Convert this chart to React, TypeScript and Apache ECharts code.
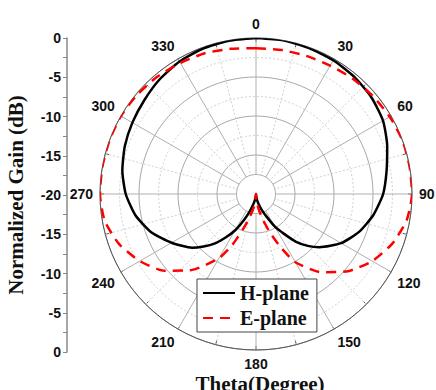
import React, { useEffect, useRef } from "react";
import * as echarts from "echarts";

// Radiation pattern, normalized gain in dB versus theta (degrees)
const hAngles = [0, 10, 20, 30, 40, 50, 60, 70, 80, 90, 100, 110, 120, 130, 135, 140, 145, 150, 155, 160, 165, 170, 175, 180,
  185, 190, 195, 200, 205, 210, 215, 220, 225, 230, 240, 250, 260, 270, 280, 290, 300, 310, 320, 330, 340, 350, 360];
const hGain = [0, 0, -0.1, -0.2, -0.4, -0.7, -1.2, -2.1, -3.0, -3.7, -4.7, -5.9, -7.4, -9.4, -10.6, -12.0, -13.8, -15.2, -16.8, -17.8, -18.6, -19.2, -19.7, -20,
  -19.7, -19.2, -18.6, -17.6, -16.3, -14.6, -13.2, -11.7, -10.5, -9.3, -7.5, -5.7, -4.3, -3.3, -2.6, -2.1, -1.7, -1.3, -0.8, -0.4, -0.15, -0.05, 0];

const eAngles = [0, 10, 20, 30, 40, 50, 60, 70, 80, 90, 100, 110, 120, 130, 140, 150, 155, 160, 165, 170, 175, 180,
  185, 190, 195, 200, 205, 210, 220, 230, 240, 250, 260, 270, 280, 290, 300, 310, 320, 330, 340, 350, 360];
const eGain = [-1.3, -1.25, -1.15, -1.0, -0.7, -0.45, -0.2, 0, 0, 0, -0.4, -1.4, -2.8, -4.6, -6.9, -9.9, -12.4, -14.7, -16.6, -18.0, -19.2, -20,
  -19.2, -18.2, -17.0, -15.3, -12.8, -10.5, -7.3, -4.7, -2.8, -1.3, -0.3, 0, 0, 0, 0, -0.15, -0.35, -0.6, -0.8, -1.1, -1.3];

const seriesNames = ["H-plane", "E-plane"];
const angleTicks = [0, 30, 60, 90, 120, 150, 180, 210, 240, 270, 300, 330];

const CX = 256;
const CY = 194;
const R = 156;

const sans = "Liberation Sans";
const serif = "Liberation Serif";

export default function App() {
  const ref = useRef<HTMLDivElement>(null);

  useEffect(() => {
    if (!ref.current) return;
    const chart = echarts.init(ref.current, undefined, { renderer: "svg" });

    const hData = hAngles.map((a, i) => [hGain[i], a]);
    const eData = eAngles.map((a, i) => [eGain[i], a]);

    chart.setOption({
      animation: false,
      backgroundColor: "#fff",
      polar: { center: [CX, CY], radius: R },
      angleAxis: {
        type: "value",
        min: 0,
        max: 360,
        interval: 30,
        startAngle: 90,
        clockwise: true,
        axisLine: { show: true, lineStyle: { color: "#555", width: 1 } },
        axisTick: { show: true, inside: true, length: 4, lineStyle: { color: "#555" } },
        minorTick: { show: true, splitNumber: 2, length: 4, lineStyle: { color: "#555" } },
        splitLine: { show: true, lineStyle: { color: "#b0b0b0", width: 1 } },
        minorSplitLine: { show: true, lineStyle: { color: "#d0d0d0", width: 1, type: [2, 2] } },
        axisLabel: {
          margin: 7,
          fontFamily: sans,
          fontWeight: "bold",
          fontSize: 14,
          lineHeight: 14,
          color: "#111",
          formatter: (v: number) => (angleTicks.includes(v) ? String(v) : ""),
        },
      },
      radiusAxis: {
        type: "value",
        min: -20,
        max: 0,
        interval: 5,
        axisLine: { show: false },
        axisTick: { show: false },
        axisLabel: { show: false },
        splitLine: { show: true, lineStyle: { color: "#a8a8a8", width: 1 } },
        minorTick: { show: false, splitNumber: 2 },
        minorSplitLine: { show: true, lineStyle: { color: "#d0d0d0", width: 1, type: [2, 2] } },
      },
      grid: { left: 67, top: 38, width: 1, height: 314 },
      xAxis: { type: "value", show: false, min: 0, max: 1 },
      yAxis: {
        type: "value",
        min: 0,
        max: 40,
        interval: 5,
        name: "Normalized Gain (dB)",
        nameLocation: "middle",
        nameGap: 41,
        nameTextStyle: { fontFamily: serif, fontWeight: "bold", fontSize: 21, color: "#111" },
        axisLine: { show: true, lineStyle: { color: "#888", width: 1.5 } },
        axisTick: { show: true, inside: false, length: 4, lineStyle: { color: "#888" } },
        minorTick: { show: true, splitNumber: 2, length: 4, lineStyle: { color: "#888" } },
        splitLine: { show: false },
        axisLabel: {
          margin: 6,
          fontFamily: sans,
          fontWeight: "bold",
          fontSize: 14,
          color: "#111",
          formatter: (v: number) => {
            const d = -(20 - Math.abs(v - 20));
            return d === 0 ? "0" : String(d);
          },
        },
      },
      legend: {
        orient: "vertical",
        left: 197,
        top: 279,
        data: seriesNames,
        padding: [4, 8, 4, 5],
        itemGap: 5,
        itemWidth: 32,
        itemHeight: 20,
        itemStyle: { opacity: 0 },
        backgroundColor: "#fff",
        borderColor: "#444",
        borderWidth: 1,
        textStyle: { fontFamily: serif, fontWeight: "bold", fontSize: 20, color: "#111" },
      },
      graphic: [
        {
          type: "circle",
          z: 1,
          shape: { cx: CX, cy: CY, r: R / 8 },
          style: { fill: "#fff", stroke: "#b0b0b0", lineWidth: 1 },
        },
        {
          type: "text",
          x: 260,
          y: 384,
          style: {
            text: "Theta(Degree)",
            font: `bold 21px "${serif}"`,
            fill: "#111",
            align: "center",
            verticalAlign: "middle",
          },
        },
      ],
      series: [
        {
          name: seriesNames[0],
          type: "line",
          coordinateSystem: "polar",
          data: hData,
          symbol: "none",
          smooth: 0.2,
          z: 3,
          lineStyle: { color: "#000", width: 2.5 },
          itemStyle: { color: "#000" },
        },
        {
          name: seriesNames[1],
          type: "line",
          coordinateSystem: "polar",
          data: eData,
          symbol: "none",
          smooth: 0.2,
          z: 4,
          lineStyle: { color: "#f00", width: 2.5, type: [10, 7] },
          itemStyle: { color: "#f00" },
        },
      ],
    });

    return () => chart.dispose();
  }, []);

  return (
    <div
      ref={ref}
      style={{ position: "fixed", left: 0, top: 0, width: 436, height: 390 }}
    />
  );
}
